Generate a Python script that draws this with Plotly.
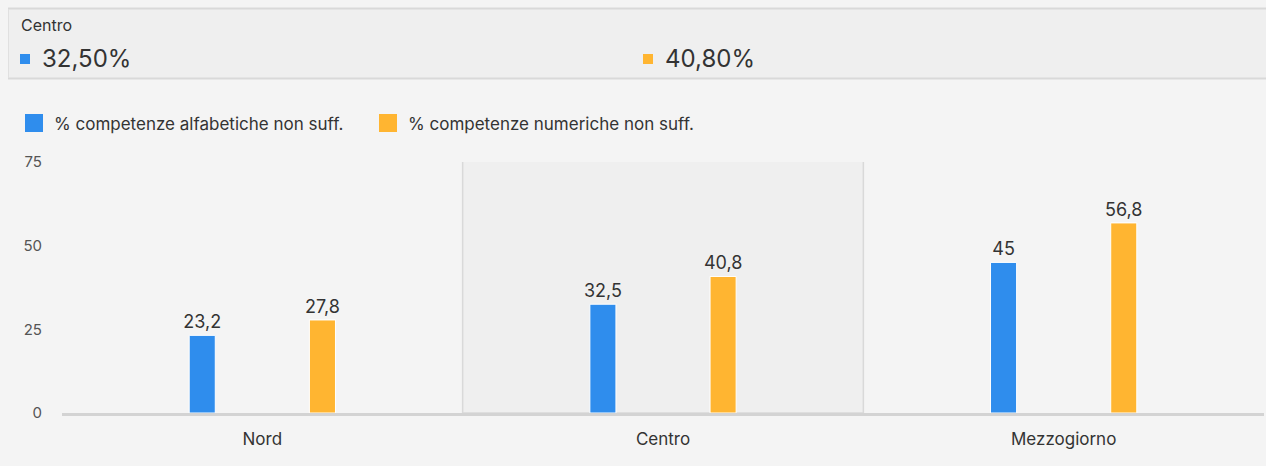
import plotly.graph_objects as go

categories = ["Nord", "Centro", "Mezzogiorno"]
series_names = ["% competenze alfabetiche non suff.", "% competenze numeriche non suff."]
alfabetiche = [23.2, 32.5, 45]
numeriche = [27.8, 40.8, 56.8]
y_ticks = [0, 25, 50, 75]
highlight_category = "Centro"

colors = ["#2f8ded", "#ffb531"]
BG = "#f4f4f4"
W, H = 1266, 466
# plot area in page pixels: x 62..1264, y 162..413
PL, PR, PT, PB = 62, 1264, 162, 413
ML, MR, MT, MB = PL, W - PR, PT, H - PB
FONT = "Inter, Roboto, Noto Sans, sans-serif"

def px(xp):
    return (xp - PL) / (PR - PL)

def py(yp):
    return (PB - yp) / (PB - PT)

fig = go.Figure()
for name, vals, col in zip(series_names, [alfabetiche, numeriche], colors):
    fig.add_trace(go.Bar(
        x=categories, y=vals, name=name,
        marker=dict(color=col, line=dict(color="white", width=1)),
        texttemplate="%{y}", textposition="outside", cliponaxis=False,
        constraintext="none",
        textfont=dict(size=18, color="#333333", family=FONT),
        showlegend=False,
    ))

shapes = []
hi = categories.index(highlight_category)
shapes.append(dict(type="rect", xref="x", yref="y", x0=hi - 0.5, x1=hi + 0.5, y0=0, y1=75.6,
                   fillcolor="#efefef", line=dict(color="#d9d9d9", width=1.5), layer="below"))
# top info box
shapes.append(dict(type="rect", xref="paper", yref="paper", x0=px(8), x1=px(1270), y0=py(78), y1=py(9),
                   fillcolor="#efefef", line=dict(width=0), layer="below"))
for yy in (8.5, 78.5):
    shapes.append(dict(type="line", xref="paper", yref="paper", x0=px(8), x1=px(1270), y0=py(yy), y1=py(yy),
                       line=dict(color="#d9d9d9", width=2)))
shapes.append(dict(type="line", xref="paper", yref="paper", x0=px(8.5), x1=px(8.5), y0=py(78), y1=py(9),
                   line=dict(color="#e0e0e0", width=1)))

annotations = []
annotations.append(dict(xref="paper", yref="paper", x=px(19), y=py(25), text=highlight_category,
                        showarrow=False, xanchor="left", yanchor="middle",
                        font=dict(size=16, color="#333333", family=FONT)))
centro_vals = [alfabetiche[hi], numeriche[hi]]
for i, (v, col) in enumerate(zip(centro_vals, colors)):
    sx = [20, 643][i]
    shapes.append(dict(type="rect", xref="paper", yref="paper", x0=px(sx), x1=px(sx + 10),
                       y0=py(64), y1=py(54), fillcolor=col, line=dict(width=0)))
    annotations.append(dict(xref="paper", yref="paper", x=px(sx + 20), y=py(59),
                            text=f"{v:.2f}".replace(".", ",") + "%", showarrow=False,
                            xanchor="left", yanchor="middle",
                            font=dict(size=24, color="#333333", family=FONT)))

# legend
for i, (name, col) in enumerate(zip(series_names, colors)):
    sx = [25, 379][i]
    shapes.append(dict(type="rect", xref="paper", yref="paper", x0=px(sx), x1=px(sx + 18),
                       y0=py(132), y1=py(114), fillcolor=col, line=dict(width=0)))
    annotations.append(dict(xref="paper", yref="paper", x=px(sx + 27), y=py(124), text=name,
                            showarrow=False, xanchor="left", yanchor="middle",
                            font=dict(size=17, color="#333333", family=FONT)))

fig.update_layout(
    width=W, height=H,
    margin=dict(l=ML, r=MR, t=MT, b=MB),
    paper_bgcolor=BG, plot_bgcolor=BG,
    barmode="group", bargap=0.4, bargroupgap=0.783,
    separators=",.",
    shapes=shapes, annotations=annotations,
    font=dict(family=FONT, color="#333333"),
    showlegend=False,
)
fig.update_xaxes(showline=True, linewidth=3, linecolor="#d3d3d3", showgrid=False, zeroline=False,
                 ticks="", tickfont=dict(size=17, color="#333333", family=FONT), ticklabelstandoff=9)
fig.update_yaxes(range=[0, 75], tickvals=y_ticks, showgrid=False, zeroline=False, showline=False,
                 ticks="", tickfont=dict(size=15, color="#555555", family=FONT), ticklabelstandoff=19)

page_style = ("document.body.style.margin='0';document.body.style.overflow='hidden';"
              "document.body.style.background='" + BG + "';")
fig.write_html("out.html", post_script=page_style, config={"displayModeBar": False})
